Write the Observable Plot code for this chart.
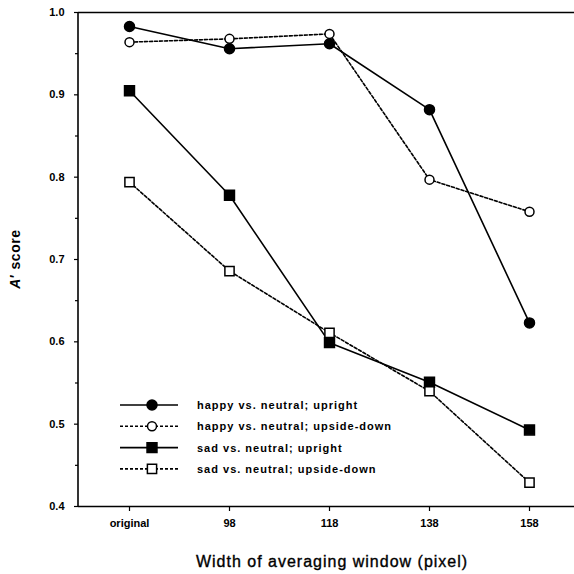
<!DOCTYPE html>
<html>
<head>
<meta charset="utf-8">
<script src="https://cdn.jsdelivr.net/npm/d3@7"></script>
<script src="https://cdn.jsdelivr.net/npm/@observablehq/plot@0.6"></script>
<style>
  html, body { margin: 0; padding: 0; background: #fff; overflow: hidden; }
  #chart { width: 574px; height: 574px; }
</style>
</head>
<body>
<div id="chart"></div>
<script>
// ---- data ----
const categories = ["original", "98", "118", "138", "158"];
const happyUpright = [0.983, 0.956, 0.962, 0.882, 0.623];
const happyInverted = [0.964, 0.968, 0.974, 0.797, 0.758];
const sadUpright = [0.905, 0.778, 0.599, 0.551, 0.493];
const sadInverted = [0.794, 0.686, 0.611, 0.540, 0.429];
const seriesNames = [
  "happy vs. neutral; upright",
  "happy vs. neutral; upside-down",
  "sad vs. neutral; upright",
  "sad vs. neutral; upside-down"
];
const yTicks = [0.4, 0.5, 0.6, 0.7, 0.8, 0.9, 1.0];
const yMinorTicks = [0.45, 0.55, 0.65, 0.75, 0.85, 0.95];
const xTitle = "Width of averaging window (pixel)";

// ---- styling per series ----
const seriesValues = [happyUpright, happyInverted, sadUpright, sadInverted];
const styles = [
  {symbol: "circle", fill: "black", dash: null, r: 5},
  {symbol: "circle", fill: "white", dash: "3,2", r: 4.5},
  {symbol: "square", fill: "black", dash: null, r: 5.6},
  {symbol: "square", fill: "white", dash: "3,2", r: 5.2}
];

const rows = [];
seriesValues.forEach((vals, s) => {
  vals.forEach((v, i) => rows.push({series: seriesNames[s], s, cat: categories[i], value: v}));
});

const font = "'Liberation Sans', Arial, Helvetica, sans-serif";

const marks = [];
// frame lines
marks.push(Plot.ruleY([0.4, 1.0], {stroke: "black", strokeWidth: 1.6}));
marks.push((index, scales, values, dims) => {
  const g = d3.create("svg:g");
  g.append("line")
    .attr("x1", dims.marginLeft).attr("x2", dims.marginLeft)
    .attr("y1", dims.marginTop).attr("y2", dims.height - dims.marginBottom)
    .attr("stroke", "black").attr("stroke-width", 1.6);
  return g.node();
});
// axes
marks.push(Plot.axisY(yTicks, {
  tickSize: 4, tickPadding: 10, tickFormat: d3.format(".1f"),
  fontSize: 11, fontWeight: "bold", label: null, strokeWidth: 1.2
}));
marks.push(Plot.axisY(yMinorTicks, {tickSize: 3, tickFormat: () => "", label: null, strokeWidth: 1.2}));
marks.push(Plot.axisX(categories, {
  tickSize: 5, tickPadding: 8, fontSize: 11, fontWeight: "bold", label: null, strokeWidth: 1.2
}));
// lines and points
seriesValues.forEach((vals, s) => {
  const data = rows.filter(d => d.s === s);
  marks.push(Plot.line(data, {
    x: "cat", y: "value", stroke: "black", strokeWidth: 1.6,
    strokeDasharray: styles[s].dash || undefined
  }));
});
seriesValues.forEach((vals, s) => {
  const data = rows.filter(d => d.s === s);
  marks.push(Plot.dot(data, {
    x: "cat", y: "value", symbol: () => styles[s].symbol, r: styles[s].r,
    fill: styles[s].fill, stroke: "black", strokeWidth: 1.5
  }));
});
// titles and legend
marks.push((index, scales, values, dims) => {
  const g = d3.create("svg:g").attr("font-family", font).attr("fill", "black");
  // y label
  const yl = g.append("text")
    .attr("transform", `translate(20,${(dims.marginTop + dims.height - dims.marginBottom) / 2}) rotate(-90)`)
    .attr("text-anchor", "middle")
    .attr("font-size", 14).attr("font-weight", "bold").attr("letter-spacing", 0.6);
  yl.append("tspan").attr("font-style", "italic").text("A");
  yl.append("tspan").text("\u2032 score");
  // x label
  g.append("text")
    .attr("x", 332).attr("y", 567)
    .attr("text-anchor", "middle")
    .attr("font-size", 16).attr("letter-spacing", 1)
    .attr("stroke", "black").attr("stroke-width", 0.35)
    .text(xTitle);
  // legend
  const lg = g.append("g").attr("transform", "translate(120,405)");
  seriesNames.forEach((name, s) => {
    const row = lg.append("g").attr("transform", `translate(0,${s * 21.3})`);
    row.append("line").attr("x1", 0).attr("x2", 58).attr("y1", 0).attr("y2", 0)
      .attr("stroke", "black").attr("stroke-width", 1.6)
      .attr("stroke-dasharray", styles[s].dash);
    const sym = styles[s].symbol === "circle" ? d3.symbolCircle : d3.symbolSquare;
    row.append("path")
      .attr("transform", "translate(32,0)")
      .attr("d", d3.symbol(sym, Math.PI * styles[s].r * styles[s].r)())
      .attr("fill", styles[s].fill).attr("stroke", "black").attr("stroke-width", 1.5);
    row.append("text").attr("x", 77).attr("y", 4)
      .attr("text-anchor", "start")
      .attr("font-size", 11).attr("font-weight", "bold").attr("letter-spacing", 1)
      .text(name);
  });
  return g.node();
});

const chart = Plot.plot({
  width: 574,
  height: 574,
  marginLeft: 78,
  marginRight: 0,
  marginTop: 12,
  marginBottom: 68,
  style: {fontFamily: font, color: "black", background: "white"},
  x: {type: "point", domain: categories, range: [128, 530], padding: 0},
  y: {domain: [0.4, 1.0]},
  marks
});
document.getElementById("chart").appendChild(chart);
</script>
</body>
</html>
